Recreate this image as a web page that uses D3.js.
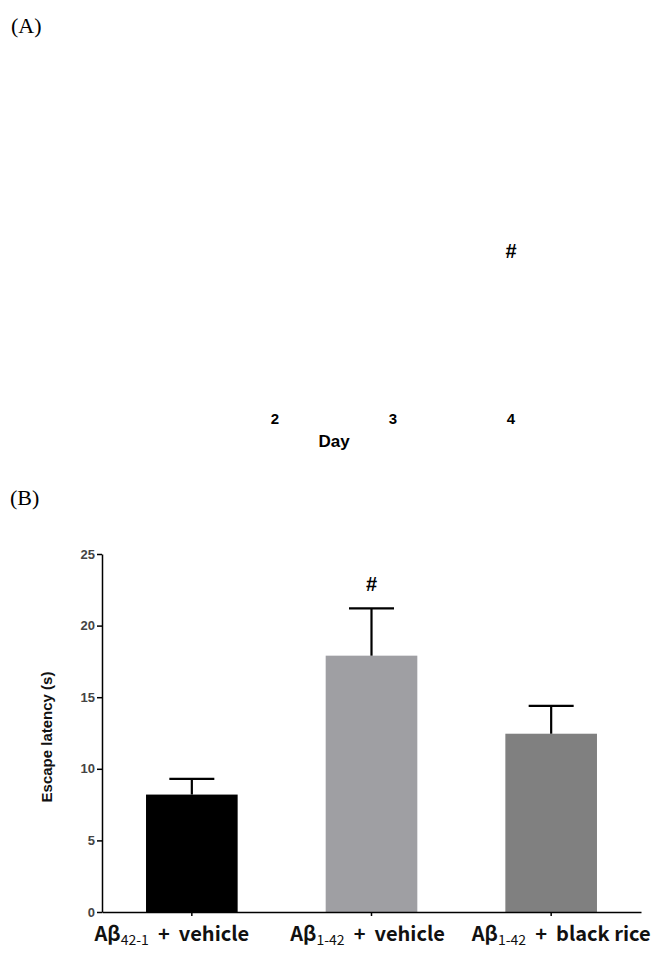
<!DOCTYPE html>
<html><head><meta charset="utf-8">
<script src="https://cdn.jsdelivr.net/npm/d3@7"></script>
<style>body{margin:0;background:#fff;} svg{display:block;}</style>
</head><body>
<script>
// Panel A (only tick labels and marker visible)
const dayTicks = [2, 3, 4];
const dayDomain = [1, 4];
const panelAMarkers = [{day: 4, label: "#"}];

// Panel B
const groupsMain = ["Aβ", "Aβ", "Aβ"];
const groupsSub = ["42-1", "1-42", "1-42"];
const groupsRest = [" + vehicle", " + vehicle", " + black rice"];
const categories = ["Aβ42-1 + vehicle", "Aβ1-42 + vehicle", "Aβ1-42 + black rice"];
const means = [8.2, 17.9, 12.45];
const sems = [1.1, 3.3, 1.95];
const barColors = ["#000000", "#9f9fa3", "#808080"];
const sigMarks = ["", "#", ""];
const yTicks = [0, 5, 10, 15, 20, 25];

const W = 657, H = 953;
const SANS = "'Liberation Sans', Arial, sans-serif";
const svg = d3.select("body").append("svg").attr("width", W).attr("height", H);

// Panel labels
svg.append("text").attr("x", 11).attr("y", 33).text("(A)")
  .attr("font-family", "'Liberation Serif', serif").attr("font-size", 22);
svg.append("text").attr("x", 10).attr("y", 505).text("(B)")
  .attr("font-family", "'Liberation Serif', serif").attr("font-size", 22);

// Panel A
const xa = d3.scaleLinear().domain(dayDomain).range([157, 511]);
const gA = svg.append("g");
gA.selectAll("text.tick").data(dayTicks).join("text")
  .attr("x", d => xa(d)).attr("y", 424)
  .attr("text-anchor", "middle")
  .attr("font-family", SANS)
  .attr("font-weight", "bold").attr("font-size", 15)
  .text(d => d);
gA.append("text").attr("x", 334).attr("y", 447).attr("text-anchor", "middle")
  .attr("font-family", SANS)
  .attr("font-weight", "bold").attr("font-size", 17).text("Day");
gA.selectAll("text.mk").data(panelAMarkers).join("text")
  .attr("x", d => xa(d.day)).attr("y", 258).attr("text-anchor", "middle")
  .attr("font-family", SANS)
  .attr("font-weight", "bold").attr("font-size", 20).text(d => d.label);

// Panel B
const x0 = 102, x1 = 641, yTop = 554, yBot = 912;
const x = d3.scaleBand().domain(categories).range([x0, x1]).paddingInner(0.49).paddingOuter(0.245);
const y = d3.scaleLinear().domain([0, 25]).range([yBot, yTop]);

const g = svg.append("g");

// bars
g.selectAll("rect.bar").data(categories).join("rect")
  .attr("x", d => x(d)).attr("width", x.bandwidth())
  .attr("y", (d, i) => y(means[i])).attr("height", (d, i) => yBot - y(means[i]))
  .attr("fill", (d, i) => barColors[i]);

// error bars
const capW = 45;
g.selectAll("line.err").data(categories).join("line")
  .attr("x1", d => x(d) + x.bandwidth() / 2).attr("x2", d => x(d) + x.bandwidth() / 2)
  .attr("y1", (d, i) => y(means[i])).attr("y2", (d, i) => y(means[i] + sems[i]))
  .attr("stroke", "#000").attr("stroke-width", 2.2);
g.selectAll("line.cap").data(categories).join("line")
  .attr("x1", d => x(d) + x.bandwidth() / 2 - capW / 2).attr("x2", d => x(d) + x.bandwidth() / 2 + capW / 2)
  .attr("y1", (d, i) => y(means[i] + sems[i])).attr("y2", (d, i) => y(means[i] + sems[i]))
  .attr("stroke", "#000").attr("stroke-width", 2.2);

// significance marks
g.selectAll("text.sig").data(categories).join("text")
  .attr("x", d => x(d) + x.bandwidth() / 2)
  .attr("y", (d, i) => y(means[i] + sems[i]) - 17)
  .attr("text-anchor", "middle")
  .attr("font-family", SANS)
  .attr("font-weight", "bold").attr("font-size", 20)
  .text((d, i) => sigMarks[i]);

// y axis
const yAxis = g.append("g").attr("transform", `translate(${x0},0)`)
  .call(d3.axisLeft(y).tickValues(yTicks).tickSize(5).tickSizeOuter(0).tickPadding(2));
yAxis.select(".domain").attr("stroke", "#000").attr("stroke-width", 1.5);
yAxis.selectAll(".tick line").attr("stroke", "#000").attr("stroke-width", 1.5);
yAxis.selectAll(".tick text").attr("font-family", SANS)
  .attr("font-size", 13).attr("font-weight", "bold").attr("fill", "#444");

// x axis
const xAxis = g.append("g").attr("transform", `translate(0,${yBot})`)
  .call(d3.axisBottom(x).tickSize(4).tickSizeOuter(0).tickFormat(""));
xAxis.select(".domain").attr("stroke", "#000").attr("stroke-width", 1.5);
xAxis.selectAll(".tick line").attr("stroke", "#000").attr("stroke-width", 1.5);

// category labels with subscripts
const labelShift = [-20, -4, 10];
const lab = g.selectAll("text.cat").data(categories).join("text")
  .attr("x", (d, i) => x(d) + x.bandwidth() / 2 + labelShift[i]).attr("y", 941)
  .attr("text-anchor", "middle")
  .attr("font-family", "'Noto Sans CJK KR', 'Noto Sans', sans-serif")
  .attr("font-weight", "bold").attr("font-size", 20).attr("fill", "#111");
lab.append("tspan").text((d, i) => groupsMain[i]);
lab.append("tspan").attr("font-size", 14).attr("font-weight", "normal").attr("dy", 4).text((d, i) => groupsSub[i]);
lab.append("tspan").attr("dy", -4).attr("xml:space", "preserve").text((d, i) => groupsRest[i].replace(" + ", "  +  "));

// y axis title
svg.append("text")
  .attr("transform", `translate(52,${(yTop + yBot) / 2 + 4}) rotate(-90)`)
  .attr("text-anchor", "middle")
  .attr("font-family", SANS)
  .attr("font-weight", "bold").attr("font-size", 15).attr("fill", "#111")
  .text("Escape latency (s)");
</script>
</body></html>
